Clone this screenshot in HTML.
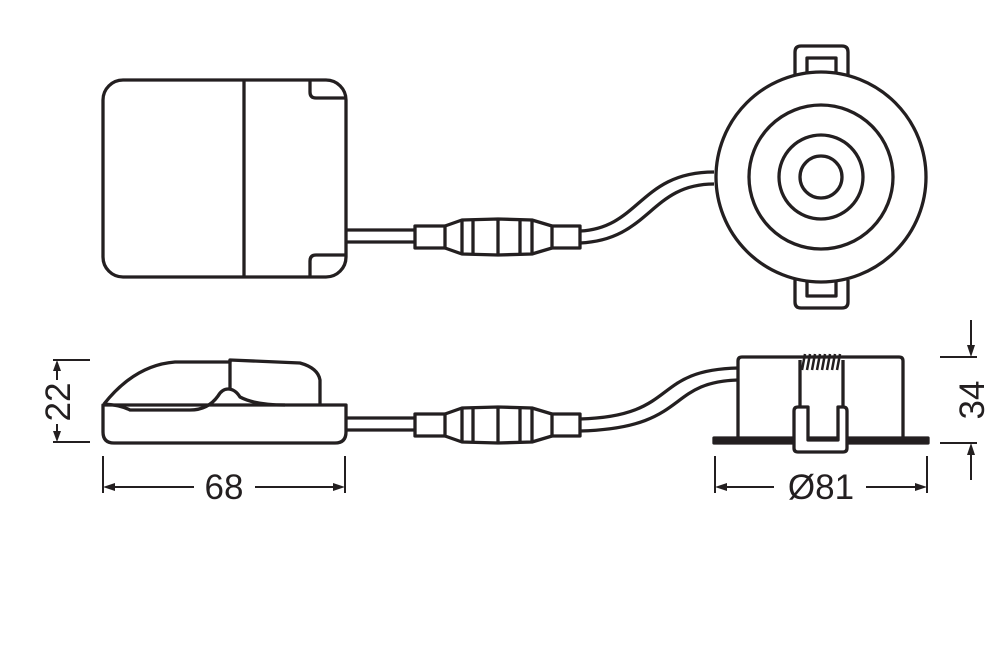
<!DOCTYPE html>
<html><head><meta charset="utf-8"><style>html,body{margin:0;padding:0;background:#fff}svg{display:block}</style></head>
<body>
<svg width="1000" height="670" viewBox="0 0 1000 670" xmlns="http://www.w3.org/2000/svg" fill="none" stroke="#231f20" stroke-width="3.3" stroke-linejoin="round">
<rect x="103" y="80" width="243" height="197" rx="20"/>
<line x1="244" y1="80" x2="244" y2="277"/>
<path d="M310,81 V92 Q310,98 316,98 H345"/>
<path d="M310,276 V261 Q310,255 316,255 H345"/>
<line x1="346" y1="230" x2="415" y2="230"/>
<line x1="346" y1="242" x2="415" y2="242"/>
<g id="conn">
<rect x="415" y="226" width="30" height="22"/>
<path d="M445,226 L462,220 L498,219 L532,220 L552,226 M445,248 L462,254 L498,255 L532,254 L552,248"/>
<line x1="462" y1="220" x2="462" y2="254"/>
<line x1="473" y1="220" x2="473" y2="254"/>
<line x1="498" y1="219" x2="498" y2="255"/>
<line x1="520" y1="220" x2="520" y2="254"/>
<line x1="532" y1="220" x2="532" y2="254"/>
<rect x="552" y="226" width="28" height="22"/>
</g>
<path d="M580,231 C640,228 640,172 714,172"/>
<path d="M580,243 C650,240 650,184 714,184"/>
<path d="M795,75 V52 Q795,46 801,46 H842 Q848,46 848,52 V75"/>
<path d="M807,72 V58 H836 V72"/>
<path d="M795,280 V302 Q795,308 801,308 H842 Q848,308 848,302 V280"/>
<path d="M807,282 V296 H836 V282"/>
<circle cx="821" cy="177" r="105" fill="#fff"/>
<circle cx="821" cy="177" r="72"/>
<circle cx="821" cy="177" r="42"/>
<circle cx="821" cy="177" r="21"/>
<path d="M103,405 V432 Q103,443 114,443 H335 Q346,443 346,432 V405 Z"/>
<path d="M104,404 Q135,365 175,362 H230 V360 L300,363 Q318,368 320,380 V405"/>
<line x1="230" y1="360" x2="230" y2="388"/>
<path d="M104,404 Q120,405 130,410 H190 Q208,410 218,396 Q222,389 228,389 Q235,389 240,397 Q255,405 285,405"/>
<line x1="346" y1="418" x2="415" y2="418"/>
<line x1="346" y1="430" x2="415" y2="430"/>
<use href="#conn" transform="translate(0,188)"/>
<path d="M580,419 C680,416 650,370 738,368"/>
<path d="M580,431 C690,428 665,382 738,380"/>
<path d="M738,438 V361 Q738,357 742,357 H899 Q903,357 903,361 V438"/>
<rect x="714" y="438" width="214" height="5" fill="#231f20"/>
<line x1="800" y1="360" x2="800" y2="407"/>
<line x1="843" y1="360" x2="843" y2="407"/>
<g stroke-width="2.5">
<path d="M802,370 L805,354 M807,370 L810,354 M812,370 L815,354 M817,370 L820,354 M822,370 L825,354 M827,370 L830,354 M832,370 L835,354 M837,370 L840,354"/>
</g>
<path d="M794,438 V448 Q794,452 798,452 H843 Q847,452 847,448 V411 Q847,407 843,407 H838 V440 H808 V407 H798 Q794,407 794,411 Z" fill="#fff"/>
<g stroke-width="2">
<line x1="53" y1="360" x2="90" y2="360"/>
<line x1="53" y1="442" x2="90" y2="442"/>
<line x1="57" y1="368" x2="57" y2="380"/>
<line x1="57" y1="424" x2="57" y2="434"/>
<line x1="103" y1="456" x2="103" y2="493"/>
<line x1="345" y1="456" x2="345" y2="493"/>
<line x1="110" y1="487" x2="194" y2="487"/>
<line x1="255" y1="487" x2="338" y2="487"/>
<line x1="715" y1="456" x2="715" y2="493"/>
<line x1="927" y1="456" x2="927" y2="493"/>
<line x1="722" y1="487" x2="774" y2="487"/>
<line x1="866" y1="487" x2="920" y2="487"/>
<line x1="940" y1="357" x2="977" y2="357"/>
<line x1="940" y1="443" x2="977" y2="443"/>
<line x1="971" y1="320" x2="971" y2="350"/>
<line x1="971" y1="450" x2="971" y2="480"/>
</g>
<g fill="#231f20" stroke="none">
<path d="M57,360 L53,371 L61,371 Z"/>
<path d="M57,442 L53,431 L61,431 Z"/>
<path d="M103,487 L115,483 L115,491 Z"/>
<path d="M345,487 L333,483 L333,491 Z"/>
<path d="M715,487 L727,483 L727,491 Z"/>
<path d="M927,487 L915,483 L915,491 Z"/>
<path d="M971,357 L967,345 L975,345 Z"/>
<path d="M971,443 L967,455 L975,455 Z"/>
</g>
<g fill="#231f20" stroke="none" font-family="Liberation Sans, sans-serif" font-size="35">
<text x="224" y="499" text-anchor="middle">68</text>
<text x="821" y="499" text-anchor="middle">Ø81</text>
<text transform="translate(70,402) rotate(-90)" text-anchor="middle">22</text>
<text transform="translate(984,400) rotate(-90)" text-anchor="middle">34</text>
</g>
</svg>
</body></html>
